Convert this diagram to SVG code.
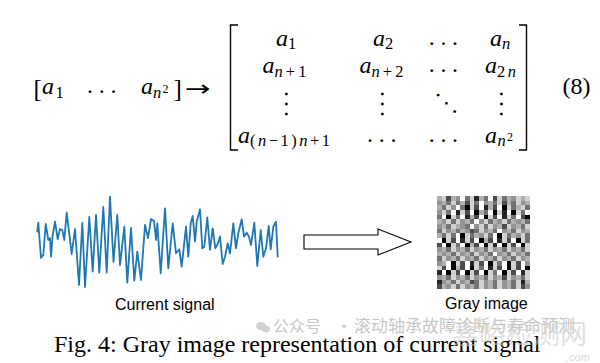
<svg xmlns="http://www.w3.org/2000/svg" width="600" height="363" viewBox="0 0 600 363">
<style>
.mi{font-family:"Liberation Serif",serif;font-style:italic;font-size:24px;fill:#000}
.mr{font-family:"Liberation Serif",serif;font-size:24px;fill:#000}
.sub{font-family:"Liberation Serif",serif;font-size:16.5px;fill:#000}
.it{font-style:italic}
.sup{font-family:"Liberation Serif",serif;font-size:12px;fill:#000}
.dots{font-family:"Liberation Serif",serif;font-size:24px;letter-spacing:5.7px;fill:#000}
.vd{font-family:"Liberation Serif",serif;font-size:24px;letter-spacing:4px;fill:#000}
.brk{fill:none;stroke:#000;stroke-width:1.4}
.lbl{font-family:"Liberation Sans",Arial,sans-serif;font-size:16px;fill:#000}
.cap{font-family:"Liberation Serif","Times New Roman",serif;font-size:24px;fill:#000}
.wm{font-family:"Noto Sans CJK SC",sans-serif;fill:#9a9a9a}
</style>

<g id="equation">
  <!-- row vector -->
  <text class="mr" x="33.5" y="96.5" style="font-size:25px">[</text>
  <text class="mi" x="42" y="94">a</text>
  <text class="sub" x="55.5" y="97.5">1</text>
  <text class="dots" x="87" y="93">...</text>
  <text class="mi" x="141" y="94">a</text>
  <text class="sub it" x="153" y="97.5">n</text>
  <text class="sup" x="162.5" y="92.5">2</text>
  <text class="mr" x="173.5" y="96.5" style="font-size:25px">]</text>
  <text transform="translate(185 96) scale(1.4 1)" style="font-family:'DejaVu Sans',sans-serif;font-size:22px;fill:#000">→</text>

  <!-- matrix brackets -->
  <path class="brk" d="M238 25H230.5V150H238"/>
  <path class="brk" d="M519 25H526.5V150H519"/>

  <!-- row 1 -->
  <text class="mi" x="276" y="45.7">a</text><text class="sub" x="288" y="49">1</text>
  <text class="mi" x="373" y="45.7">a</text><text class="sub" x="385" y="49">2</text>
  <text class="dots" x="428.7" y="44.5">...</text>
  <text class="mi" x="490" y="45.7">a</text><text class="sub it" x="502" y="49">n</text>

  <!-- row 2 -->
  <text class="mi" x="262.5" y="73.3">a</text><text class="sub" x="274.5" y="76.6" textLength="32" lengthAdjust="spacing"><tspan class="it">n</tspan>+1</text>
  <text class="mi" x="359.5" y="73.3">a</text><text class="sub" x="371.5" y="76.6" textLength="32" lengthAdjust="spacing"><tspan class="it">n</tspan>+2</text>
  <text class="dots" x="428.7" y="72">...</text>
  <text class="mi" x="485" y="73.3">a</text><text class="sub" x="497" y="76.6" textLength="19" lengthAdjust="spacing">2<tspan class="it">n</tspan></text>

  <!-- row 3 -->
  <g transform="translate(286 94) rotate(90)"><text class="vd" x="-3" y="1.2">...</text></g>
  <g transform="translate(382.7 94) rotate(90)"><text class="vd" x="-3" y="1.2">...</text></g>
  <g transform="translate(438.3 95) rotate(45)"><text class="dots" x="-3" y="1.2">...</text></g>
  <g transform="translate(501.7 94) rotate(90)"><text class="vd" x="-3" y="1.2">...</text></g>

  <!-- row 4 -->
  <text class="mi" x="238" y="142.5">a</text><text class="sub" x="250" y="146" textLength="80" lengthAdjust="spacing">(<tspan class="it">n</tspan>−1)<tspan class="it">n</tspan>+1</text>
  <text class="dots" x="367" y="141.5">...</text>
  <text class="dots" x="428.7" y="141.5">...</text>
  <text class="mi" x="485" y="142.5">a</text><text class="sub it" x="497.5" y="146">n</text><text class="sup" x="507" y="140.5">2</text>

  <text class="mr" x="562.5" y="93.5">(8)</text>
</g>

<g id="signal">
  <polyline fill="none" stroke="#1f77b4" stroke-width="1.8" stroke-linejoin="round" stroke-linecap="round" points="37.3,231.7 38.3,222.7 41,258 43.3,255 45.7,224 48.3,240 50,238 51,256.7 52.7,235 55,221.7 57.7,239 60,229 62.3,230 64.3,240 66.7,212.7 71.7,254 75,229 79,285 82.3,223 85,287 89.3,217 92.7,271.7 96,215 99.3,272.7 103.3,207 106.7,272.7 110,196.7 113.5,262 117.3,215 120,265 124.3,226.7 127.3,282.7 131,228 134.3,280.7 137.3,251.7 141,280 145,225 148,238 151,219 154,221 156,240 157.3,223.3 160.7,273.3 165,208.3 168.3,268.3 172.7,223.3 176,253.3 179.3,249.3 181.7,266.7 186,226.7 188.3,256.7 190.7,223.3 192.7,216 195,241.7 196.7,221.7 200,209.3 202.3,248.3 204.3,246.7 207.3,217.3 210,250 212.7,228.3 215.3,248.3 217.3,245 220,236.7 222.7,264 225,256.7 227.7,243.3 230,253.3 233.3,223.3 236,248.3 238.3,233.3 241.7,219.3 244,236.7 246.7,232.7 249,236.7 251,245 254.3,222.7 257.3,266 260.7,230 263.3,256.7 266,248.3 268.7,226 270.7,249.3 273.3,226.7 276,221.7 277.7,256.7"/>
</g>

<g id="gray-image" transform="translate(437 196) scale(4.65)" shape-rendering="crispEdges">
  <rect x="0" y="0" width="20" height="20" fill="#949494"/>
  <path fill="#000" d="M6 2h1v1h-1zM14 2h1v1h-1zM8 3h1v1h-1zM12 3h1v1h-1zM16 3h1v1h-1zM2 4h1v1h-1zM10 4h1v1h-1zM19 4h1v1h-1zM5 8h1v1h-1zM13 8h1v1h-1zM1 9h1v1h-1zM9 9h1v1h-1zM17 9h1v1h-1zM2 10h1v1h-1zM6 10h1v1h-1zM10 10h1v1h-1zM14 10h1v1h-1zM18 10h1v1h-1zM3 14h1v1h-1zM11 14h1v1h-1zM15 14h1v1h-1zM3 15h1v1h-1zM7 15h1v1h-1zM15 15h1v1h-1zM19 15h1v1h-1zM2 16h1v1h-1zM6 16h1v1h-1zM10 16h1v1h-1zM14 16h1v1h-1z"/>
  <path fill="#262626" d="M8 0h1v1h-1zM10 2h1v1h-1zM4 3h1v1h-1zM14 3h1v1h-1zM6 4h1v1h-1zM14 4h1v1h-1zM5 9h1v1h-1zM13 9h1v1h-1zM12 10h1v1h-1zM7 14h1v1h-1zM11 15h1v1h-1zM0 16h1v1h-1zM18 16h1v1h-1zM0 18h1v1h-1zM18 18h1v1h-1z"/>
  <path fill="#4d4d4d" d="M2 0h1v1h-1zM12 0h1v1h-1zM6 1h1v1h-1zM14 1h1v1h-1zM8 2h1v1h-1zM12 2h1v1h-1zM6 3h1v1h-1zM8 4h1v1h-1zM12 4h1v1h-1zM18 4h1v1h-1zM14 6h1v1h-1zM7 7h1v1h-1zM3 9h1v1h-1zM7 9h1v1h-1zM11 9h1v1h-1zM15 9h1v1h-1zM0 10h1v1h-1zM8 10h1v1h-1zM16 10h1v1h-1zM5 14h1v1h-1zM9 14h1v1h-1zM17 14h1v1h-1zM1 15h1v1h-1zM5 15h1v1h-1zM13 15h1v1h-1zM17 15h1v1h-1zM4 16h1v1h-1zM8 16h1v1h-1zM16 16h1v1h-1zM14 17h1v1h-1zM7 18h1v1h-1zM0 19h1v1h-1zM18 19h1v1h-1z"/>
  <path fill="#737373" d="M6 0h1v1h-1zM10 0h1v1h-1zM14 0h1v1h-1zM2 1h1v1h-1zM4 1h1v1h-1zM8 1h1v1h-1zM12 1h1v1h-1zM16 1h1v1h-1zM1 2h1v1h-1zM5 2h1v1h-1zM16 2h1v1h-1zM19 2h1v1h-1zM2 3h1v1h-1zM10 3h1v1h-1zM18 3h1v1h-1zM0 4h1v1h-1zM4 4h1v1h-1zM16 4h1v1h-1zM3 5h1v1h-1zM7 5h1v1h-1zM11 5h1v1h-1zM15 5h1v1h-1zM19 5h1v1h-1zM2 6h1v1h-1zM6 6h1v1h-1zM10 6h1v1h-1zM18 6h1v1h-1zM0 7h1v1h-1zM4 7h1v1h-1zM8 7h1v1h-1zM12 7h1v1h-1zM16 7h1v1h-1zM1 8h1v1h-1zM3 8h1v1h-1zM7 8h1v1h-1zM11 8h1v1h-1zM15 8h1v1h-1zM19 8h1v1h-1zM19 9h1v1h-1zM4 10h1v1h-1zM2 11h1v1h-1zM6 11h1v1h-1zM10 11h1v1h-1zM14 11h1v1h-1zM18 11h1v1h-1zM3 12h1v1h-1zM7 12h1v1h-1zM11 12h1v1h-1zM15 12h1v1h-1zM19 12h1v1h-1zM0 13h1v1h-1zM4 13h1v1h-1zM8 13h1v1h-1zM12 13h1v1h-1zM16 13h1v1h-1zM13 14h1v1h-1zM9 15h1v1h-1zM12 16h1v1h-1zM2 17h1v1h-1zM6 17h1v1h-1zM10 17h1v1h-1zM18 17h1v1h-1zM3 18h1v1h-1zM8 18h1v1h-1zM12 18h1v1h-1zM16 18h1v1h-1zM4 19h1v1h-1zM8 19h1v1h-1zM12 19h1v1h-1zM16 19h1v1h-1z"/>
  <path fill="#b0b0b0" d="M0 0h1v1h-1zM3 0h1v1h-1zM9 0h1v1h-1zM15 0h1v1h-1zM18 0h1v1h-1zM1 1h1v1h-1zM5 1h1v1h-1zM11 1h1v1h-1zM15 1h1v1h-1zM19 1h1v1h-1zM0 2h1v1h-1zM11 2h1v1h-1zM17 2h1v1h-1zM9 3h1v1h-1zM7 4h1v1h-1zM0 5h1v1h-1zM6 5h1v1h-1zM12 5h1v1h-1zM16 5h1v1h-1zM18 5h1v1h-1zM1 6h1v1h-1zM4 6h1v1h-1zM13 6h1v1h-1zM17 6h1v1h-1zM3 7h1v1h-1zM5 7h1v1h-1zM11 7h1v1h-1zM15 7h1v1h-1zM19 7h1v1h-1zM0 8h1v1h-1zM8 8h1v1h-1zM16 8h1v1h-1zM10 9h1v1h-1zM7 10h1v1h-1zM1 11h1v1h-1zM5 11h1v1h-1zM9 11h1v1h-1zM13 11h1v1h-1zM17 11h1v1h-1zM0 12h1v1h-1zM2 12h1v1h-1zM6 12h1v1h-1zM10 12h1v1h-1zM14 12h1v1h-1zM18 12h1v1h-1zM3 13h1v1h-1zM7 13h1v1h-1zM11 13h1v1h-1zM15 13h1v1h-1zM19 13h1v1h-1zM1 14h1v1h-1zM4 15h1v1h-1zM1 17h1v1h-1zM5 17h1v1h-1zM9 17h1v1h-1zM13 17h1v1h-1zM17 17h1v1h-1zM2 18h1v1h-1zM6 18h1v1h-1zM11 18h1v1h-1zM15 18h1v1h-1zM19 18h1v1h-1zM1 19h1v1h-1zM7 19h1v1h-1zM11 19h1v1h-1zM15 19h1v1h-1z"/>
  <path fill="#d2d2d2" d="M1 0h1v1h-1zM7 0h1v1h-1zM13 0h1v1h-1zM17 0h1v1h-1zM19 0h1v1h-1zM3 1h1v1h-1zM7 1h1v1h-1zM13 1h1v1h-1zM17 1h1v1h-1zM2 2h1v1h-1zM7 2h1v1h-1zM15 2h1v1h-1zM18 2h1v1h-1zM1 3h1v1h-1zM5 3h1v1h-1zM13 3h1v1h-1zM17 3h1v1h-1zM3 4h1v1h-1zM11 4h1v1h-1zM15 4h1v1h-1zM2 5h1v1h-1zM4 5h1v1h-1zM10 5h1v1h-1zM14 5h1v1h-1zM3 6h1v1h-1zM9 6h1v1h-1zM11 6h1v1h-1zM15 6h1v1h-1zM19 6h1v1h-1zM1 7h1v1h-1zM9 7h1v1h-1zM17 7h1v1h-1zM2 8h1v1h-1zM6 8h1v1h-1zM10 8h1v1h-1zM14 8h1v1h-1zM18 8h1v1h-1zM2 9h1v1h-1zM6 9h1v1h-1zM14 9h1v1h-1zM18 9h1v1h-1zM3 10h1v1h-1zM11 10h1v1h-1zM15 10h1v1h-1zM19 10h1v1h-1zM3 11h1v1h-1zM7 11h1v1h-1zM11 11h1v1h-1zM15 11h1v1h-1zM19 11h1v1h-1zM4 12h1v1h-1zM8 12h1v1h-1zM16 12h1v1h-1zM1 13h1v1h-1zM5 13h1v1h-1zM9 13h1v1h-1zM13 13h1v1h-1zM17 13h1v1h-1zM4 14h1v1h-1zM8 14h1v1h-1zM12 14h1v1h-1zM16 14h1v1h-1zM0 15h1v1h-1zM8 15h1v1h-1zM12 15h1v1h-1zM16 15h1v1h-1zM3 16h1v1h-1zM7 16h1v1h-1zM11 16h1v1h-1zM15 16h1v1h-1zM19 16h1v1h-1zM3 17h1v1h-1zM7 17h1v1h-1zM11 17h1v1h-1zM15 17h1v1h-1zM19 17h1v1h-1zM4 18h1v1h-1zM9 18h1v1h-1zM13 18h1v1h-1zM17 18h1v1h-1zM3 19h1v1h-1zM5 19h1v1h-1zM9 19h1v1h-1zM13 19h1v1h-1zM17 19h1v1h-1z"/>
  <path fill="#fff" d="M5 0h1v1h-1zM11 0h1v1h-1zM9 1h1v1h-1zM4 2h1v1h-1zM9 2h1v1h-1zM13 2h1v1h-1zM3 3h1v1h-1zM7 3h1v1h-1zM11 3h1v1h-1zM15 3h1v1h-1zM19 3h1v1h-1zM1 4h1v1h-1zM5 4h1v1h-1zM9 4h1v1h-1zM13 4h1v1h-1zM17 4h1v1h-1zM8 5h1v1h-1zM7 6h1v1h-1zM13 7h1v1h-1zM4 8h1v1h-1zM12 8h1v1h-1zM0 9h1v1h-1zM4 9h1v1h-1zM8 9h1v1h-1zM12 9h1v1h-1zM16 9h1v1h-1zM1 10h1v1h-1zM5 10h1v1h-1zM9 10h1v1h-1zM13 10h1v1h-1zM17 10h1v1h-1zM12 12h1v1h-1zM2 14h1v1h-1zM6 14h1v1h-1zM10 14h1v1h-1zM14 14h1v1h-1zM18 14h1v1h-1zM2 15h1v1h-1zM6 15h1v1h-1zM10 15h1v1h-1zM14 15h1v1h-1zM18 15h1v1h-1zM1 16h1v1h-1zM5 16h1v1h-1zM9 16h1v1h-1zM13 16h1v1h-1zM17 16h1v1h-1z"/>
</g>

<g id="connectors">
  <polygon points="304,235 378,235 378,229 411,242 378,255 378,249 304,249" fill="#fff" stroke="#000" stroke-width="1.1" stroke-linejoin="miter"/>
</g>

<g id="labels">
  <text class="lbl" x="115" y="310">Current signal</text>
  <text class="lbl" x="445" y="309">Gray image</text>
</g>

<g id="caption">
  <text class="cap" x="54" y="351.5">Fig. 4: Gray image representation of current signal</text>
</g>

<g id="watermark" opacity="0.55">
  <text class="wm" x="452" y="344" style="font-size:27px;fill:#c8c8c8">嘉峪检测网</text>
  <ellipse cx="261" cy="326" rx="5" ry="4" fill="#aaa"/>
  <ellipse cx="266" cy="329" rx="4" ry="3.3" fill="#aaa"/>
  <text class="wm" x="273" y="332" style="font-size:16px">公众号</text>
  <text class="wm" x="336" y="332" style="font-size:16px">·</text>
  <text class="wm" x="354" y="332" style="font-size:17px">滚动轴承故障诊断与寿命预测</text>
  <text x="566" y="361" style="font-family:'Liberation Sans',sans-serif;font-style:italic;font-size:11px;fill:#bbb">.com</text>
</g>
</svg>
